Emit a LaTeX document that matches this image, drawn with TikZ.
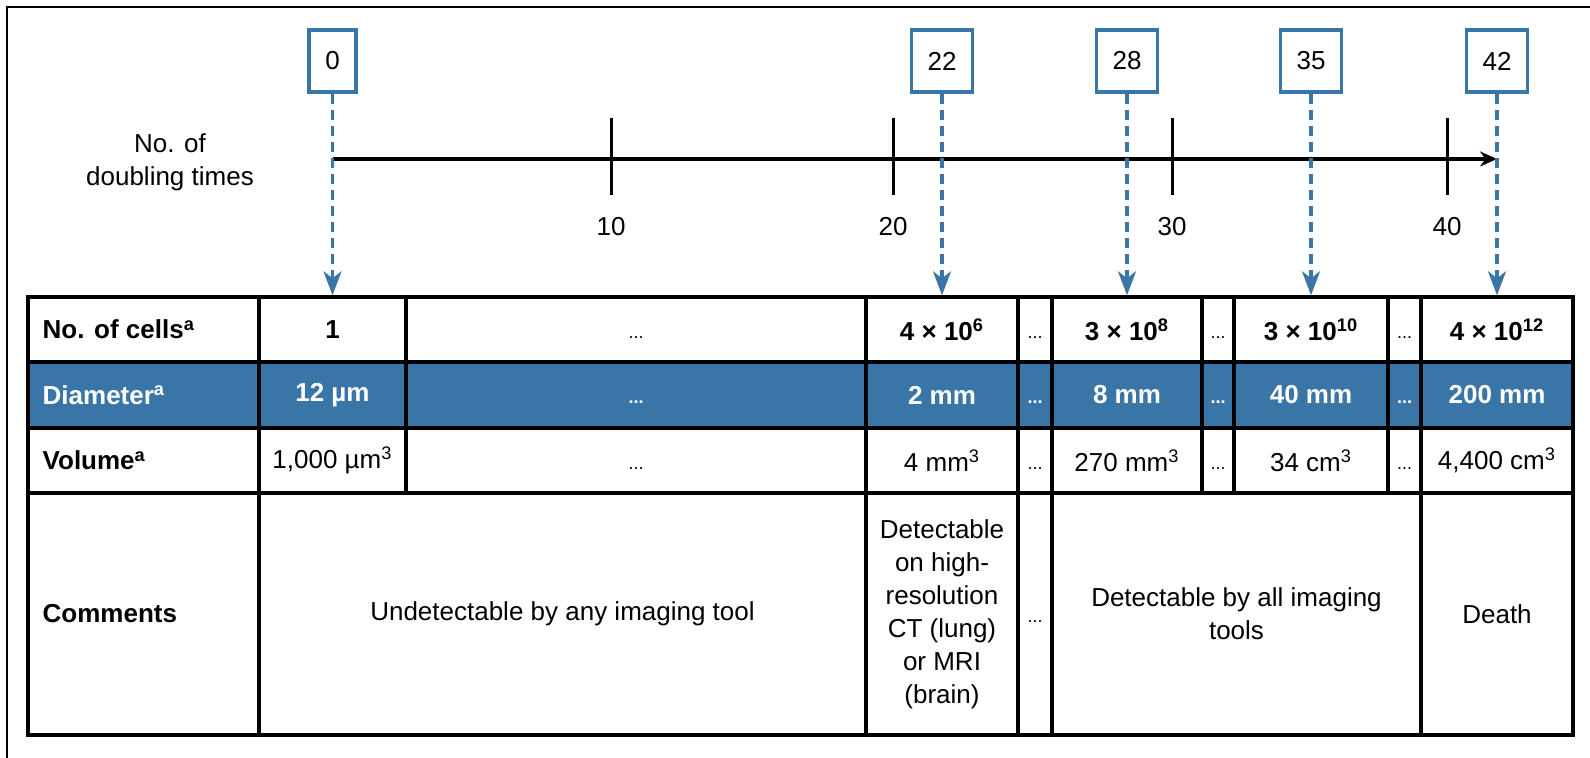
\documentclass[tikz,border=0pt]{standalone}
\usepackage{fontspec}
\setmainfont{Liberation Sans}
\usetikzlibrary{arrows.meta,positioning}
\tikzset{>=Stealth}
\definecolor{tblue}{RGB}{58,117,168}
\newcommand{\figfont}{\fontsize{13}{16.5}\selectfont}
\newcommand{\dts}{\vphantom{1}{\fontsize{9}{11}\selectfont...}}
\newcommand{\tcell}[7][]{%
  \node[cell,#1,minimum width={(#4-#3)*0.5pt},minimum height={(#6-#5)*0.5pt}]
    (#2) at ({(#3+#4)/2},{(#5+#6)/2}) {#7};}

\begin{document}
\begin{tikzpicture}[x=0.5pt,y=-0.5pt,
    cell/.style={draw,line width=1.7pt,inner sep=2pt,align=center,font=\figfont},
    bold/.style={font=\figfont\bfseries},
    bluerow/.style={fill=tblue,text=white,font=\figfont\bfseries},
    numbox/.style={draw=tblue,line width=1.9pt,fill=white,minimum height=31pt,inner xsep=8pt,font=\figfont},
    darrow/.style={tblue,line width=1.6pt,dash pattern=on 5pt off 3pt,-{Stealth[length=12pt,width=9pt,inset=3.5pt]}},
    axis/.style={line width=1.6pt,-{Stealth[length=8.5pt,width=7.5pt]}},
    tick/.style={line width=1.5pt},
    lbl/.style={inner sep=0pt,font=\figfont\bfseries}]

    \useasboundingbox (0,0) rectangle (1590,758);
    \draw[line width=1.4pt] (7,758) -- (7,7) -- (1590,7);

    % time axis
    \node[align=center,font=\figfont] (dbl) at (170,162) {No. of\\doubling times};
    \coordinate (ax0) at (332.5,159);
    \coordinate (ax1) at (1497,159);
    \draw[axis] (ax0) -- (ax1);
    \foreach \x/\n in {611/10,893/20,1172/30,1447/40} {
        \draw[tick] (\x,118) -- (\x,195);
        \node[font=\figfont] (t\n) at (\x,227) {\n};
    }

    % table
    \tcell{lcells}{28}{259}{297}{362}{}
    \tcell[bold]{cells0}{259}{406}{297}{362}{1}
    \tcell{cellsA}{406}{866}{297}{362}{\dts}
    \tcell[bold]{cells22}{866}{1018}{297}{362}{4 × 10\textsuperscript{6}}
    \tcell{cellsB}{1018}{1052}{297}{362}{\dts}
    \tcell[bold]{cells28}{1052}{1202}{297}{362}{3 × 10\textsuperscript{8}}
    \tcell{cellsC}{1202}{1234}{297}{362}{\dts}
    \tcell[bold]{cells35}{1234}{1388}{297}{362}{3 × 10\textsuperscript{10}}
    \tcell{cellsD}{1388}{1421}{297}{362}{\dts}
    \tcell[bold]{cells42}{1421}{1573}{297}{362}{4 × 10\textsuperscript{12}}

    \tcell[bluerow]{ldiam}{28}{259}{362}{428}{}
    \tcell[bluerow]{diam0}{259}{406}{362}{428}{12 µm}
    \tcell[bluerow]{diamA}{406}{866}{362}{428}{\dts}
    \tcell[bluerow]{diam22}{866}{1018}{362}{428}{2 mm}
    \tcell[bluerow]{diamB}{1018}{1052}{362}{428}{\dts}
    \tcell[bluerow]{diam28}{1052}{1202}{362}{428}{8 mm}
    \tcell[bluerow]{diamC}{1202}{1234}{362}{428}{\dts}
    \tcell[bluerow]{diam35}{1234}{1388}{362}{428}{40 mm}
    \tcell[bluerow]{diamD}{1388}{1421}{362}{428}{\dts}
    \tcell[bluerow]{diam42}{1421}{1573}{362}{428}{200 mm}

    \tcell{lvol}{28}{259}{428}{493}{}
    \tcell{vol0}{259}{406}{428}{493}{1,000 µm\textsuperscript{3}}
    \tcell{volA}{406}{866}{428}{493}{\dts}
    \tcell{vol22}{866}{1018}{428}{493}{4 mm\textsuperscript{3}}
    \tcell{volB}{1018}{1052}{428}{493}{\dts}
    \tcell{vol28}{1052}{1202}{428}{493}{270 mm\textsuperscript{3}}
    \tcell{volC}{1202}{1234}{428}{493}{\dts}
    \tcell{vol35}{1234}{1388}{428}{493}{34 cm\textsuperscript{3}}
    \tcell{volD}{1388}{1421}{428}{493}{\dts}
    \tcell{vol42}{1421}{1573}{428}{493}{4,400 cm\textsuperscript{3}}

    \tcell{lcom}{28}{259}{493}{735}{}
    \tcell{undet}{259}{866}{493}{735}{Undetectable by any imaging tool}
    \tcell{hires}{866}{1018}{493}{735}{Detectable\\on high-\\resolution\\CT (lung)\\or MRI\\(brain)}
    \tcell{comB}{1018}{1052}{493}{735}{\dts}
    \tcell{allimg}{1052}{1421}{493}{735}{Detectable by all imaging\\tools}
    \tcell{death}{1421}{1573}{493}{735}{Death}

    \node[lbl,right=8pt of lcells.west] (tcells) {No. of cells\textsuperscript{a}};
    \node[lbl,text=white,right=8pt of ldiam.west] (tdiam) {Diameter\textsuperscript{a}};
    \node[lbl,right=8pt of lvol.west] (tvol) {Volume\textsuperscript{a}};
    \node[lbl,right=8pt of lcom.west] (tcom) {Comments};

    % doubling markers
    \node[numbox] (n0) at (332.5,61) {0};
    \node[numbox] (n22) at (942,61) {22};
    \node[numbox] (n28) at (1127,61) {28};
    \node[numbox] (n35) at (1311,61) {35};
    \node[numbox] (n42) at (1497,61) {42};

    \draw[darrow] (n0) -- (cells0.north);
    \draw[darrow] (n22) -- (cells22.north);
    \draw[darrow] (n28) -- (cells28.north);
    \draw[darrow] (n35) -- (cells35.north);
    \draw[darrow] (n42) -- (cells42.north);
\end{tikzpicture}
\end{document}
